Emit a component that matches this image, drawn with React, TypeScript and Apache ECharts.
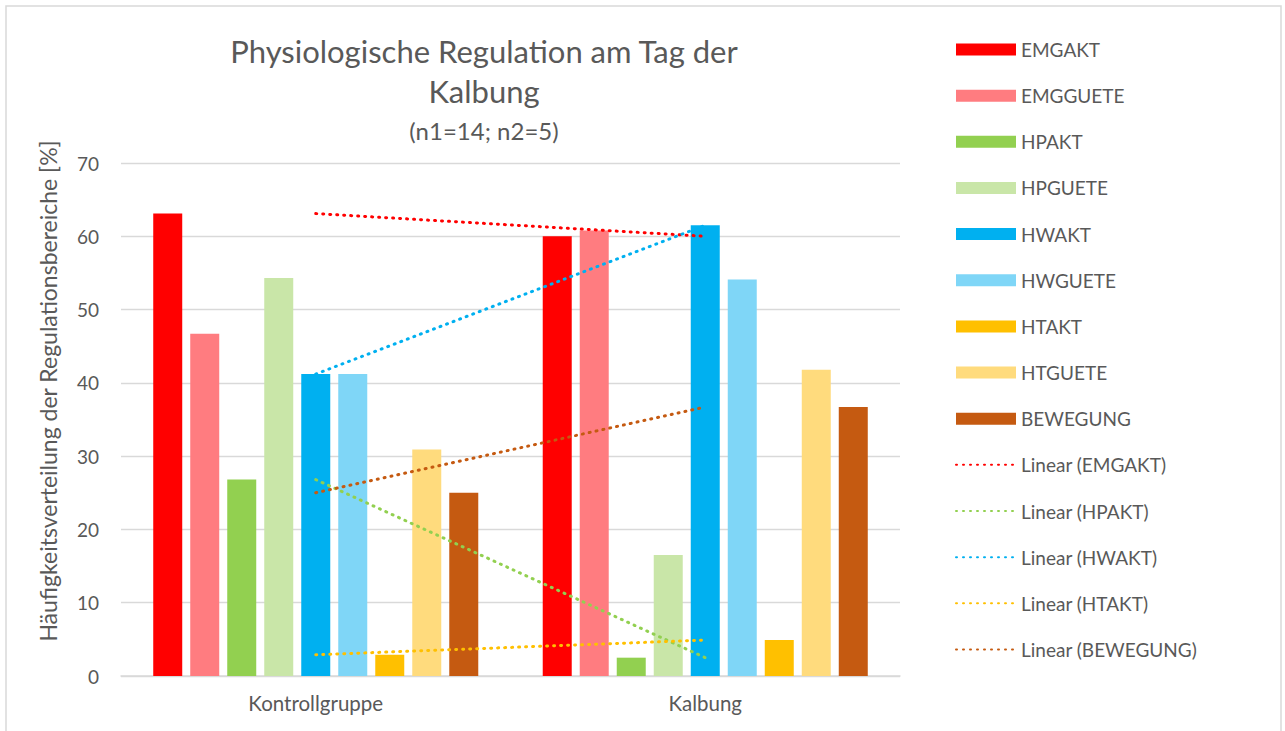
import React, { useEffect, useRef } from "react";
import * as echarts from "echarts";

const categories = ["Kontrollgruppe", "Kalbung"];
const barNames = ["EMGAKT", "EMGGUETE", "HPAKT", "HPGUETE", "HWAKT", "HWGUETE", "HTAKT", "HTGUETE", "BEWEGUNG"];
const barColors = ["#FF0000", "#FF7C80", "#92D050", "#C9E6A8", "#00B0F0", "#7FD6F7", "#FFC000", "#FFDB7D", "#C55A11"];
const EMGAKT = [63.1, 60.0];
const EMGGUETE = [46.7, 60.8];
const HPAKT = [26.8, 2.5];
const HPGUETE = [54.3, 16.5];
const HWAKT = [41.2, 61.5];
const HWGUETE = [41.2, 54.1];
const HTAKT = [2.9, 4.9];
const HTGUETE = [30.9, 41.8];
const BEWEGUNG = [25.0, 36.7];
const barValues = [EMGAKT, EMGGUETE, HPAKT, HPGUETE, HWAKT, HWGUETE, HTAKT, HTGUETE, BEWEGUNG];
const trendNames = ["Linear (EMGAKT)", "Linear (HPAKT)", "Linear (HWAKT)", "Linear (HTAKT)", "Linear (BEWEGUNG)"];
const trendSources = [EMGAKT, HPAKT, HWAKT, HTAKT, BEWEGUNG];
const trendColors = ["#FF0000", "#92D050", "#00B0F0", "#FFC000", "#C55A11"];
const yTicks = { min: 0, max: 70, interval: 10 };
const titleLines = ["Physiologische Regulation am Tag der", "Kalbung"];
const subtitle = "(n1=14; n2=5)";
const yAxisName = "Häufigkeitsverteilung der Regulationsbereiche [%]";

const FONT = "Lato, 'Open Sans', sans-serif";
const TXT = "#595959";

export default function App() {
  const ref = useRef<HTMLDivElement>(null);
  useEffect(() => {
    const chart = echarts.init(ref.current!, null, { renderer: "svg" });
    const series: any[] = [];
    barNames.forEach((n, i) => {
      series.push({
        name: n,
        type: "bar",
        data: barValues[i],
        barWidth: 29,
        barGap: "27.6%",
        itemStyle: { color: barColors[i] },
      });
    });
    trendNames.forEach((n, i) => {
      series.push({
        name: n,
        type: "line",
        data: trendSources[i],
        symbol: "none",
        z: 5,
        lineStyle: { color: trendColors[i], width: 3, type: [1, 6], cap: "round" },
        itemStyle: { color: trendColors[i] },
      });
    });
    const legendData = [
      ...barNames.map((n) => ({ name: n, icon: "rect" })),
      ...trendNames.map((n) => ({ name: n, itemStyle: { opacity: 0 } })),
    ];
    chart.setOption({
      animation: false,
      backgroundColor: "#ffffff",
      textStyle: { fontFamily: FONT },
      title: [
        {
          text: titleLines.join("\n"),
          left: 479,
          top: 26,
          textAlign: "center",
          textStyle: { fontFamily: FONT, fontSize: 31, fontWeight: "normal", color: TXT, lineHeight: 40 },
        },
        {
          text: subtitle,
          left: 479,
          top: 113,
          textAlign: "center",
          textStyle: { fontFamily: FONT, fontSize: 24, fontWeight: "normal", color: TXT },
        },
      ],
      legend: {
        orient: "vertical",
        left: 950,
        top: 35,
        itemWidth: 60,
        itemHeight: 12,
        itemGap: 27.15,
        data: legendData,
        textStyle: { fontFamily: FONT, fontSize: 19, color: TXT, lineHeight: 19, padding: [0, 0, 0, 0] },
      },
      grid: { left: 121, right: 385, top: 163, bottom: 55 },
      xAxis: {
        type: "category",
        data: categories,
        axisLine: { lineStyle: { color: "#D9D9D9", width: 1.5 } },
        axisTick: { show: false },
        axisLabel: { color: TXT, fontSize: 20.5, fontFamily: FONT, margin: 16 },
      },
      yAxis: {
        type: "value",
        min: yTicks.min,
        max: yTicks.max,
        interval: yTicks.interval,
        axisLine: { show: false },
        axisTick: { show: false },
        axisLabel: { color: TXT, fontSize: 19, fontFamily: FONT, margin: 22 },
        splitLine: { lineStyle: { color: "#D9D9D9", width: 1.3 } },
      },
      graphic: [
        {
          type: "rect",
          shape: { x: 6, y: 6, width: 1275, height: 740 },
          style: { fill: "none", stroke: "#D9D9D9", lineWidth: 1.5 },
          silent: true,
          z: -1,
        },
        {
          type: "text",
          x: 48,
          y: 391,
          rotation: Math.PI / 2,
          silent: true,
          style: {
            text: yAxisName,
            fontFamily: FONT,
            fontSize: 23,
            fill: TXT,
            textAlign: "center",
            textVerticalAlign: "middle",
          },
        },
      ],
      series,
    });
    return () => chart.dispose();
  }, []);
  return <div ref={ref} style={{ position: "fixed", left: 0, top: 0, width: 1285, height: 731 }} />;
}
